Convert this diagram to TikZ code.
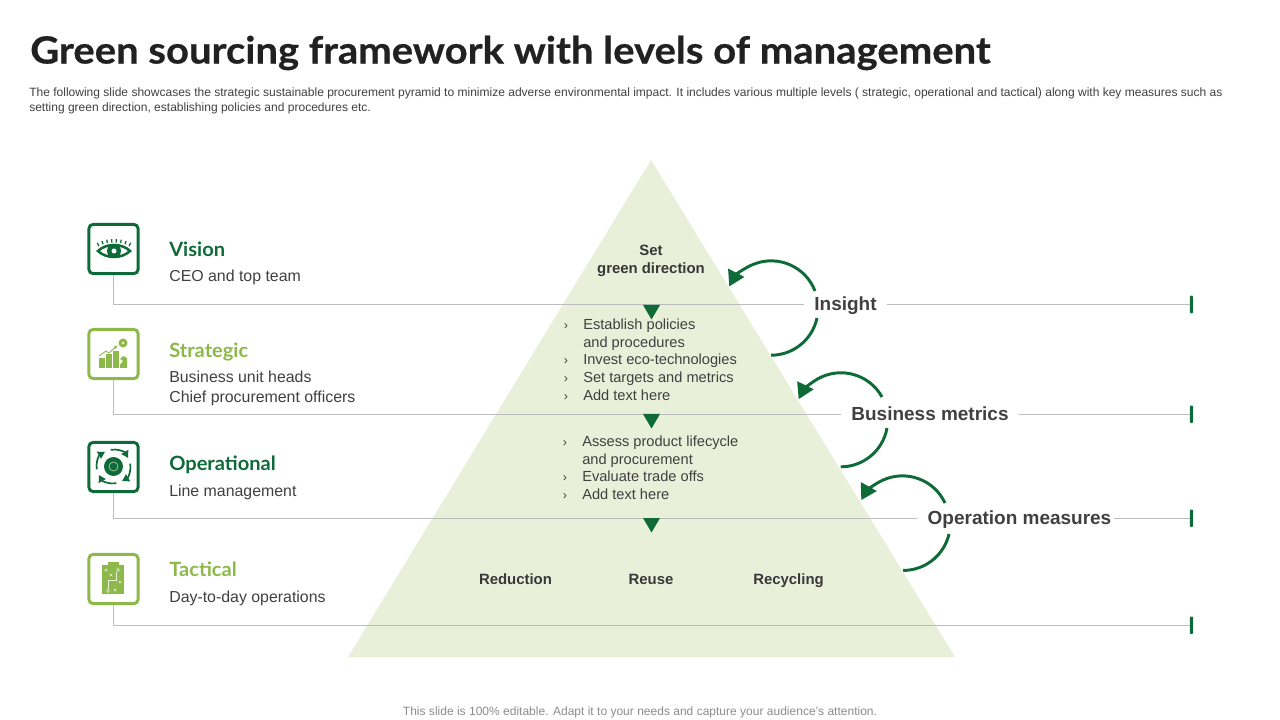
\documentclass[tikz,border=0pt]{standalone}
\usepackage{fontspec}
\setmainfont{Liberation Sans}
\newfontfamily\titlefont[FakeStretch=1.07,FakeBold=0.6]{Lato}
\newfontfamily\levelfont[FakeStretch=1.02]{Lato}
\usetikzlibrary{arrows.meta}
\definecolor{dkgreen}{HTML}{0E6B38}
\definecolor{ltgreen}{HTML}{8DB84A}
\definecolor{paleshade}{HTML}{E8F0DA}
\definecolor{bodygray}{HTML}{404040}
\definecolor{rulegray}{HTML}{BDBDBD}
\tikzset{
  titletext/.style={font=\titlefont\bfseries\fontsize{26.6}{30}\selectfont, text=black!87, anchor=west, inner sep=0},
  subtext/.style={font=\fontsize{8.55}{10}\selectfont, text=bodygray, anchor=north west, align=left, inner sep=0},
  foottext/.style={font=\fontsize{8.55}{10}\selectfont, text=black!45, inner sep=0},
  levelhead/.style={font=\levelfont\bfseries\fontsize{14}{16}\selectfont, anchor=base west, inner sep=0},
  leveltext/.style={font=\fontsize{11.3}{14.2}\selectfont, text=bodygray, anchor=base west, align=left, inner sep=0},
  iconbox/.style={draw=#1, line width=2.1pt, rounded corners=3pt, fill=white, minimum width=35pt, minimum height=35pt, inner sep=0},
  rule/.style={draw=rulegray, line width=0.6pt},
  endtick/.style={fill=dkgreen, rounded corners=0.7pt, minimum width=2.2pt, minimum height=12.5pt, inner sep=0},
  sidelabel/.style={font=\bfseries\fontsize{13.5}{16}\selectfont, text=bodygray, inner xsep=7.1pt, inner ysep=0, text height=12pt, text depth=2.8pt},
  pyrbold/.style={font=\bfseries\fontsize{10.6}{12.7}\selectfont, text=black!78, align=center, inner sep=0},
  pyrword/.style={pyrbold, anchor=base},
  pyritem/.style={font=\fontsize{10.4}{12.5}\selectfont, text=bodygray, anchor=base west, inner sep=0},
  pyrmark/.style={font=\fontsize{9}{12.5}\selectfont, text=bodygray, anchor=base, inner sep=0},
  looparc/.style={draw=dkgreen, line width=2.1pt},
  looptip/.style={looparc, -{Triangle[length=11pt,width=12.5pt]}},
}
\begin{document}
\begin{tikzpicture}[x=0.025cm,y=-0.025cm]
  \useasboundingbox (0,0) rectangle (1280,720);

  \node[titletext] (title) at (30,53) {Green sourcing framework with levels of management};
  \node[subtext] (subtitle) at (29,88) {The following slide showcases the strategic sustainable procurement pyramid to minimize adverse environmental impact. It includes various multiple levels ( strategic, operational and tactical) along with key measures such as\\setting green direction, establishing policies and procedures etc.};
  \node[foottext] (footer) at (640,712) {This slide is 100\% editable. Adapt it to your needs and capture your audience's attention.};

  \fill[paleshade] (651,160) -- (955,657) -- (348,657) -- cycle;

  \node[iconbox=dkgreen] (visionbox) at (113.5,249) {};
  \node[iconbox=ltgreen] (strategicbox) at (113.5,354) {};
  \node[iconbox=dkgreen] (operationalbox) at (113.5,467) {};
  \node[iconbox=ltgreen] (tacticalbox) at (113.5,579) {};

  \node[sidelabel] (insight) at (845.5,304.5) {Insight};
  \node[sidelabel] (business) at (930,414.3) {Business metrics};
  \node[sidelabel] (operation) at (1019.5,518.3) {Operation measures};

  \node[endtick] (insightend) at (1191.5,304.5) {};
  \node[endtick] (businessend) at (1191.5,414.3) {};
  \node[endtick] (operationend) at (1191.5,518.3) {};
  \node[endtick] (tacticalend) at (1191.5,625.3) {};

  \draw[rule] (visionbox.south) |- (insight.west);
  \draw[rule] (insight.east) -- (insightend.west);
  \draw[rule] (strategicbox.south) |- (business.west);
  \draw[rule] (business.east) -- (businessend.west);
  \draw[rule] (operationalbox.south) |- (operation.west);
  \draw[rule] ([xshift=-5.7pt]operation.east) -- (operationend.west);
  \draw[rule] (tacticalbox.south) |- (tacticalend.west);

  \foreach \y in {305,414,518}
    \fill[dkgreen] (643,\y) -- (660,\y) -- (651.5,\y+14.5) -- cycle;

  \node[levelhead, text=dkgreen] (vision) at (169,257) {Vision};
  \node[leveltext] (visiontext) at (169,282) {CEO and top team};
  \node[levelhead, text=ltgreen] (strategic) at (169,357.5) {Strategic};
  \node[leveltext, anchor=west] (strategictext) at (169,388) {Business unit heads\\Chief procurement officers};
  \node[levelhead, text=dkgreen] (operational) at (169,470) {Operational};
  \node[leveltext] (operationaltext) at (169,496) {Line management};
  \node[levelhead, text=ltgreen] (tactical) at (169,576) {Tactical};
  \node[leveltext] (tacticaltext) at (169,602) {Day-to-day operations};

  \node[pyrbold] (setgreen) at (651,261) {Set\\green direction};

  \node[pyrmark] (marka) at (566,330) {›};
  \node[pyritem] (itema) at (583,330) {Establish policies};
  \node[pyritem] (itemaa) at (583,348) {and procedures};
  \node[pyrmark] (markb) at (566,365) {›};
  \node[pyritem] (itemb) at (583,365) {Invest eco-technologies};
  \node[pyrmark] (markc) at (566,383) {›};
  \node[pyritem] (itemc) at (583,383) {Set targets and metrics};
  \node[pyrmark] (markd) at (566,401) {›};
  \node[pyritem] (itemd) at (583,401) {Add text here};

  \node[pyrmark] (marke) at (565,446) {›};
  \node[pyritem] (iteme) at (582,446) {Assess product lifecycle};
  \node[pyritem] (itemee) at (582,464) {and procurement};
  \node[pyrmark] (markf) at (565,481) {›};
  \node[pyritem] (itemf) at (582,481) {Evaluate trade offs};
  \node[pyrmark] (markg) at (565,499) {›};
  \node[pyritem] (itemg) at (582,499) {Add text here};

  \node[pyrword] (reduction) at (515.5,584) {Reduction};
  \node[pyrword] (reuse) at (651,584) {Reuse};
  \node[pyrword] (recycling) at (788.5,584) {Recycling};

  \coordinate (insightup) at (815,291);
  \coordinate (insightlow) at (817,318);
  \coordinate (businessup) at (882,397);
  \coordinate (businesslow) at (887,428);
  \coordinate (operationup) at (945,503);
  \coordinate (operationlow) at (949,534);
  \draw[looptip] (insightup) arc[start angle=-21, end angle=-153, radius=47];
  \draw[looparc] (insightlow) arc[start angle=12, end angle=90, radius=47];
  \draw[looptip] (businessup) arc[start angle=-29, end angle=-154, radius=47];
  \draw[looparc] (businesslow) arc[start angle=10, end angle=90, radius=47];
  \draw[looptip] (operationup) arc[start angle=-25, end angle=-151, radius=47];
  \draw[looparc] (operationlow) arc[start angle=13, end angle=90, radius=47];

  % eye
  \draw[dkgreen, line width=1.8pt] (98,251) .. controls (106,243) and (122,243) .. (130,251) .. controls (122,259) and (106,259) .. cycle;
  \fill[dkgreen] (114,251) circle (7);
  \fill[white] (114,251) circle (2.5);
  \foreach \a in {-116,-108.5,-101,-93.5,-86.5,-79,-71.5,-64}
    \draw[dkgreen, line width=0.9pt] (114,277) ++(\a:34.5) -- ++(\a:3.5);

  % bars and knight
  \draw[ltgreen, line width=0.6pt, -{Latex[length=3pt]}] (99,356) -- (106,351) -- (109,353) -- (118,345);
  \fill[ltgreen] (99,358) rectangle (105,368);
  \fill[ltgreen] (106,354) rectangle (112,368);
  \fill[ltgreen] (113,351) rectangle (119,368);
  \fill[ltgreen] (120,368) -- (120,365) -- (123,361) -- (120,359) -- (123,356) -- (127,358) -- (127,368) -- cycle;
  \fill[ltgreen] (123,343) circle (4.5);
  \fill[paleshade] (123,343) circle (1.5);

  % cycle and gear
  \fill[dkgreen] (113.5,466.5) circle (9.5);
  \draw[paleshade!70!dkgreen, line width=0.5pt] (113.5,466.5) circle (4.5);
  \draw[dkgreen, line width=1.2pt, -{Triangle[length=5pt,width=5.5pt]}] (113.5,466.5) ++(-100:17) arc[start angle=-100, end angle=-30, radius=17];
  \draw[dkgreen, line width=1.2pt, -{Triangle[length=5pt,width=5.5pt]}] (113.5,466.5) ++(-10:17) arc[start angle=-10, end angle=60, radius=17];
  \draw[dkgreen, line width=1.2pt, -{Triangle[length=5pt,width=5.5pt]}] (113.5,466.5) ++(80:17) arc[start angle=80, end angle=150, radius=17];
  \draw[dkgreen, line width=1.2pt, -{Triangle[length=5pt,width=5.5pt]}] (113.5,466.5) ++(170:17) arc[start angle=170, end angle=240, radius=17];

  % clipboard
  \fill[ltgreen] (102,565) rectangle (124,594);
  \fill[ltgreen] (108,562) rectangle (119,566);
  \draw[paleshade, line width=0.4pt] (116,572) -- (116,580) -- (108,580) -- (108,590);
  \draw[paleshade, line width=0.4pt] (118,570) circle (1.5) (108,591) circle (1.5);
  \foreach \px/\py in {106/570,111/575,120/582,115/590}
    \draw[paleshade, line width=0.4pt] (\px-1.3,\py-1.3) -- (\px+1.3,\py+1.3) (\px-1.3,\py+1.3) -- (\px+1.3,\py-1.3);
\end{tikzpicture}
\end{document}
